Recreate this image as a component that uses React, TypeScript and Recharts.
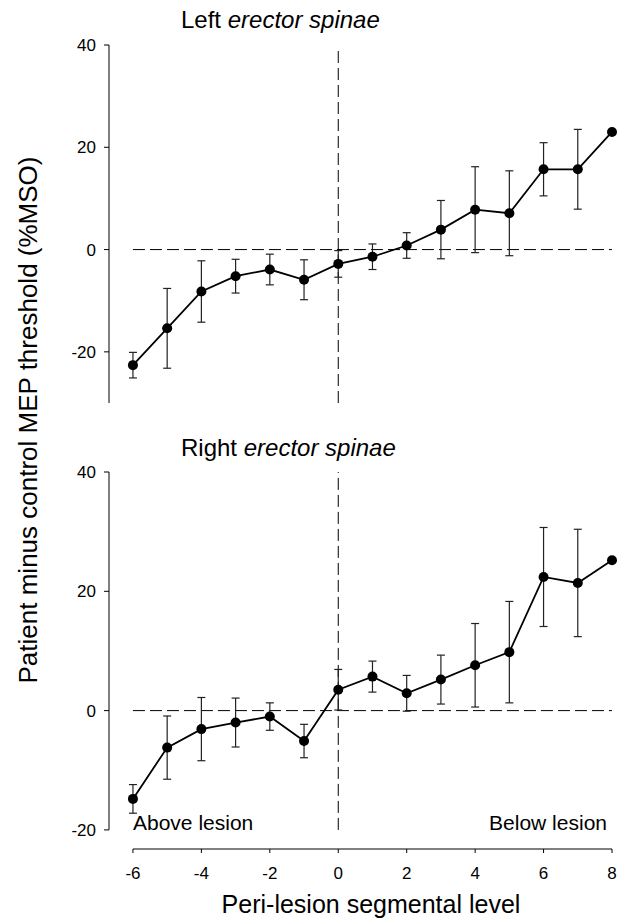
import { ComposedChart, Line, XAxis, YAxis, ErrorBar, ReferenceLine } from "recharts";

// peri-lesion segmental levels
const levels = [-6, -5, -4, -3, -2, -1, 0, 1, 2, 3, 4, 5, 6, 7, 8];

// left erector spinae: mean and error half-width (%MSO)
const leftMean = [-22.6, -15.4, -8.2, -5.2, -3.9, -5.9, -2.8, -1.4, 0.8, 3.9, 7.8, 7.1, 15.7, 15.7, 23.0];
const leftErr = [2.5, 7.8, 6.0, 3.3, 3.0, 3.9, 2.6, 2.5, 2.5, 5.7, 8.4, 8.3, 5.2, 7.8, 0];

// right erector spinae
const rightMean = [-14.8, -6.2, -3.1, -2.0, -1.0, -5.1, 3.5, 5.7, 2.9, 5.2, 7.6, 9.8, 22.4, 21.4, 25.2];
const rightErr = [2.4, 5.3, 5.3, 4.1, 2.3, 2.8, 3.4, 2.6, 3.0, 4.1, 7.0, 8.5, 8.3, 9.0, 0];

const xTicks = [-6, -4, -2, 0, 2, 4, 6, 8];
const yTicks = [-20, 0, 20, 40];

const FONT = '"Liberation Sans", Arial, Helvetica, sans-serif';
const DASH = "12 5";

const leftData = levels.map((lv, i) => ({ level: lv, value: leftMean[i], err: leftErr[i] }));
const rightData = levels.map((lv, i) => ({ level: lv, value: rightMean[i], err: rightErr[i] }));

const tickStyle = { fontSize: 17, fill: "#000", fontFamily: FONT };

function Series() {
  return (
    <Line
      dataKey="value"
      stroke="#000"
      strokeWidth={1.8}
      dot={{ r: 5, fill: "#000", stroke: "#000", strokeWidth: 0 }}
      activeDot={false}
      isAnimationActive={false}
    >
      <ErrorBar dataKey="err" direction="y" width={4} stroke="#222" strokeWidth={1.2} isAnimationActive={false} />
    </Line>
  );
}

export default function App() {
  return (
    <div style={{ position: "absolute", left: 0, top: 0, width: 626, height: 922, background: "#fff" }}>
      <div style={{ position: "absolute", left: 0, top: 0 }}>
        <ComposedChart width={626} height={420} data={leftData} margin={{ top: 45, right: 14, bottom: 17, left: 49 }}>
          <XAxis dataKey="level" type="number" domain={[-6.7, 8]} ticks={xTicks} hide />
          <YAxis
            type="number"
            domain={[-30, 40]}
            ticks={yTicks}
            width={60}
            tick={tickStyle}
            tickSize={5}
            tickMargin={8}
            stroke="#000"
          />
          <ReferenceLine segment={[{ x: -6, y: 0 }, { x: 8, y: 0 }]} stroke="#000" strokeDasharray={DASH} />
          <ReferenceLine segment={[{ x: 0, y: -30 }, { x: 0, y: 39.2 }]} stroke="#000" strokeDasharray={DASH} />
          {Series()}
        </ComposedChart>
      </div>

      <div style={{ position: "absolute", left: 0, top: 430 }}>
        <ComposedChart width={626} height={492} data={rightData} margin={{ top: 42, right: 14, bottom: 43, left: 49 }}>
          <XAxis
            dataKey="level"
            type="number"
            domain={[-6.7, 8]}
            ticks={xTicks}
            height={30}
            axisLine={false}
            tick={tickStyle}
            tickSize={4}
            tickMargin={14}
            stroke="#000"
          />
          <YAxis
            type="number"
            domain={[-23.2, 40]}
            ticks={yTicks}
            width={60}
            axisLine={false}
            tick={tickStyle}
            tickSize={5}
            tickMargin={8}
            stroke="#000"
          />
          <ReferenceLine segment={[{ x: -6.7, y: -20 }, { x: -6.7, y: 40 }]} stroke="#000" />
          <ReferenceLine segment={[{ x: -6, y: -23.2 }, { x: 8, y: -23.2 }]} stroke="#000" />
          <ReferenceLine segment={[{ x: -6, y: 0 }, { x: 8, y: 0 }]} stroke="#000" strokeDasharray={DASH} />
          <ReferenceLine segment={[{ x: 0, y: -20 }, { x: 0, y: 40 }]} stroke="#000" strokeDasharray={DASH} />
          {Series()}
        </ComposedChart>
      </div>

      <svg
        width={626}
        height={922}
        style={{ position: "absolute", left: 0, top: 0, pointerEvents: "none" }}
        fontFamily={FONT}
      >
        <text x={181} y={28} fontSize={24} fill="#000">
          Left <tspan fontStyle="italic">erector spinae</tspan>
        </text>
        <text x={181} y={456} fontSize={24} fill="#000">
          Right <tspan fontStyle="italic">erector spinae</tspan>
        </text>
        <text x={133} y={830} fontSize={21} fill="#000">Above lesion</text>
        <text x={607} y={830} fontSize={21} fill="#000" textAnchor="end">Below lesion</text>
        <text x={371} y={913} fontSize={25} fill="#000" textAnchor="middle">Peri-lesion segmental level</text>
        <text x={37} y={420} fontSize={26} fill="#000" textAnchor="middle" transform="rotate(-90, 37, 420)">
          Patient minus control MEP threshold (%MSO)
        </text>
      </svg>
    </div>
  );
}
